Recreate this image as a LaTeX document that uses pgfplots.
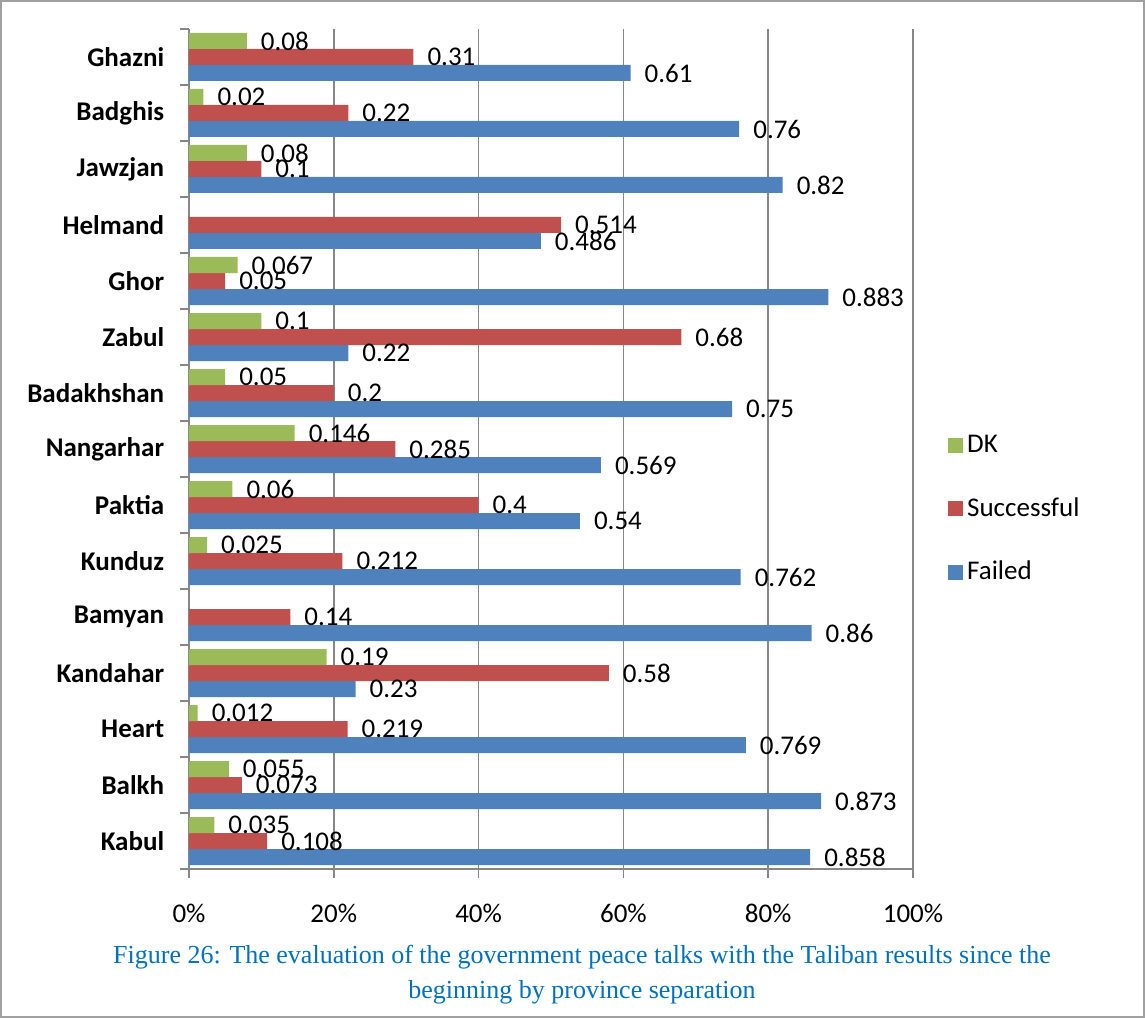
\documentclass[border=0pt]{standalone}
\usepackage{pgfplots}
\pgfplotsset{compat=1.18}
\usepackage{pgfplotstable}
\usepackage{fontspec}
\setmainfont{Carlito}
\newfontfamily\capfont{Liberation Serif}
\definecolor{cBlue}{HTML}{4F81BD}
\definecolor{cRed}{HTML}{C0504D}
\definecolor{cGreen}{HTML}{9BBB59}
\definecolor{cGrid}{HTML}{878787}
\definecolor{cCap}{HTML}{0070C0}
\definecolor{cFrame}{HTML}{A0A0A0}

\pgfplotstableread{
c v
0 0.858
1 0.873
2 0.769
3 0.23
4 0.86
5 0.762
6 0.54
7 0.569
8 0.75
9 0.22
10 0.883
11 0.486
12 0.82
13 0.76
14 0.61
}\failed

\pgfplotstableread{
c v
0 0.108
1 0.073
2 0.219
3 0.58
4 0.14
5 0.212
6 0.4
7 0.285
8 0.2
9 0.68
10 0.05
11 0.514
12 0.1
13 0.22
14 0.31
}\successful

\pgfplotstableread{
c v
0 0.035
1 0.055
2 0.012
3 0.19
5 0.025
6 0.06
7 0.146
8 0.05
9 0.1
10 0.067
12 0.08
13 0.02
14 0.08
}\dk

\begin{document}
\begin{tikzpicture}
\path[use as bounding box] (-94.5pt,-74.5pt) rectangle (478pt,434.5pt);
\draw[cFrame, line width=1pt] (-94pt,-74pt) rectangle (477.5pt,434pt);
\begin{axis}[
  at={(0,0)}, anchor=south west,
  scale only axis, width=362pt, height=420pt,
  xbar=0pt, bar width=8pt,
  xmin=0, xmax=1, ymin=-0.5, ymax=14.5,
  xtick={0,0.2,0.4,0.6,0.8,1},
  xticklabels={0\%,20\%,40\%,60\%,80\%,100\%},
  ytick={-0.5,0.5,...,14.5},
  y tick label as interval,
  yticklabels={Kabul,Balkh,Heart,Kandahar,Bamyan,Kunduz,Paktia,Nangarhar,Badakhshan,Zabul,Ghor,Helmand,Jawzjan,Badghis,Ghazni},
  axis x line*=bottom, axis y line*=left,
  axis line style={cGrid, line width=0.8pt},
  tick style={cGrid, line width=0.8pt},
  tick align=outside, major tick length=4.5pt,
  xmajorgrids, grid style={cGrid, line width=0.8pt},
  font=\fontsize{13.5}{16}\selectfont,
  xticklabel style={anchor=base, yshift=-22pt, font=\fontsize{13.5}{16}\selectfont},
  yticklabel style={font=\fontsize{13.5}{16}\selectfont\bfseries, xshift=-4.4pt},
  nodes near coords, point meta=explicit symbolic,
  every node near coord/.append style={anchor=west, xshift=3.5pt, font=\fontsize{13.5}{16}\selectfont, text=black},
  legend style={draw=none, fill=none, at={(axis description cs:1.048,0.4286)}, anchor=west, inner sep=0pt, row sep=17pt, font=\fontsize{13.5}{16}\selectfont},
  legend cell align=left,
  reverse legend,
  legend image code/.code={\draw[#1,draw=none] (0pt,-3.75pt) rectangle (7.5pt,3.75pt);},
  clip=false,
]
\addplot[fill=cBlue, draw=none] table[x=v, y=c, meta=v] {\failed};
\addplot[fill=cRed, draw=none] table[x=v, y=c, meta=v] {\successful};
\addplot[fill=cGreen, draw=none] table[x=v, y=c, meta=v] {\dk};
\legend{Failed,Successful,DK}
\end{axis}
\node[font=\capfont\fontsize{13}{17.5}\selectfont, text=cCap, align=center] at (196.5pt,-52.75pt)
  {Figure 26: The evaluation of the government peace talks with the Taliban results since the\\beginning by province separation};
\end{tikzpicture}
\end{document}
